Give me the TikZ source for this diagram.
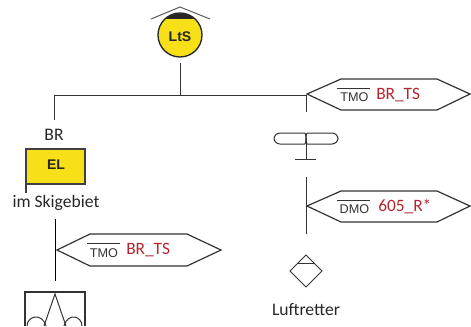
\documentclass[tikz,border=0pt]{standalone}
\usepackage{fontspec}
\setmainfont{Carlito}
\newfontfamily\arialf{Liberation Sans}
\definecolor{signyellow}{HTML}{F7E017}
\definecolor{redtxt}{HTML}{B5252F}
\definecolor{ln}{HTML}{333333}
\tikzset{
  x=0.75pt,y=-0.75pt,
  wire/.style={draw=ln,line width=0.75pt},
  hexa/.style={draw=ln,line width=0.9pt,fill=white},
  lbl/.style={font=\fontsize{13.2}{15}\selectfont,text=black!85,inner sep=0pt},
  redl/.style={font=\fontsize{13}{15}\selectfont,text=redtxt,inner sep=0pt},
  ovl/.style={font=\arialf\fontsize{9.5}{11}\selectfont,text=black!80,inner sep=0pt},
  ovbar/.style={draw=ln,line width=0.6pt},
  sign/.style={font=\arialf\bfseries\fontsize{10.5}{12}\selectfont,text=black!85,inner sep=0pt}
}
\begin{document}
\begin{tikzpicture}
\useasboundingbox (0,0) rectangle (471,326);
\clip (0,0) rectangle (471,326);
% LtS symbol
\node[circle,draw=black!85,line width=1pt,fill=signyellow,minimum size=33pt,inner sep=0pt] (lts) at (180,35) {};
\begin{scope}
\clip (180,35) circle (21.5);
\fill[black!85] (150,10) rectangle (210,18.5);
\end{scope}
\node[sign] (ltst) at (180,37) {LtS};
\draw[wire,draw=black!65] (151,19) -- (180,7) -- (210,19);
% tree
\coordinate (ltsb) at (180,63);
\coordinate (jc) at (180,95);
\coordinate (jl) at (54,95);
\coordinate (jr) at (306,95);
\draw[wire] (ltsb) -- (jc);
\draw[wire] (jl) -- (jr);
\coordinate (jlb) at (54,120);
\draw[wire] (jl) -- (jlb);
\coordinate (jrb) at (306,112);
\draw[wire] (jr) -- (jrb);
% Hex 1
\draw[hexa] (307,94) -- (341,79) -- (437,79) -- (470,94) -- (437,110) -- (341,110) -- cycle;
\node[ovl] (t1) at (354.5,97) {TMO};
\draw[ovbar] (337,88) -- (370,88);
\node[redl,anchor=west] (r1) at (376,95) {BR\_TS};
% propeller
\draw[wire,rounded corners=4.5pt] (305,133) -- (274,133) -- (274,144) -- (305,144);
\draw[wire,rounded corners=4.5pt] (307,133) -- (338,133) -- (338,144) -- (307,144);
\draw[wire] (305,133) .. controls (306.5,136) and (306.5,141) .. (305,144);
\draw[wire] (307,133) .. controls (305.5,136) and (305.5,141) .. (307,144);
\coordinate (pc) at (306,138);
\coordinate (pb) at (306,159);
\draw[wire] (pc) -- (pb);
\draw[wire] (295,159) -- (316,159);
% line 2
\coordinate (l2a) at (306,177);
\coordinate (l2b) at (306,234);
\draw[wire] (l2a) -- (l2b);
% Hex 2
\draw[hexa] (307,206) -- (341,191) -- (437,191) -- (470,206) -- (437,222) -- (341,222) -- cycle;
\node[ovl] (t2) at (354.5,209) {DMO};
\draw[ovbar] (337,200) -- (370,200);
\node[redl,anchor=west] (r2) at (378,207) {605\_R*};
% Diamond
\draw[wire] (306,255) -- (322,271) -- (306,287) -- (290,271) -- cycle;
\draw[wire] (298,263) -- (314,263);
\node[lbl] (luft) at (306,310) {Luftretter};
% Left branch
\node[lbl] (br) at (54,135) {BR};
\draw[wire,draw=black!75,line width=1pt,fill=signyellow] (26,149) rectangle (85,184);
\draw[wire,draw=black!75,line width=1pt] (26,184) -- (26,193);
\node[sign] (el) at (56,165) {EL};
\node[lbl] (ski) at (56,203) {im Skigebiet};
\coordinate (l3a) at (55,219);
\coordinate (l3b) at (55,281);
\draw[wire,draw=black] (l3a) -- (l3b);
% Hex 3
\draw[hexa] (57,250) -- (90,234) -- (187,234) -- (221,250) -- (187,266) -- (90,266) -- cycle;
\node[ovl] (t3) at (104,253) {TMO};
\draw[ovbar] (87,243) -- (120,243);
\node[redl,anchor=west] (r3) at (126,250) {BR\_TS};
% Bottom box
\draw[wire,line width=0.9pt] (25,326) -- (25,292) -- (85,292) -- (85,326);
\draw[wire] (44,326) -- (55,294) -- (66,326);
\draw[wire] (27,326) .. controls (27,316) and (42,312) .. (46,326);
\draw[wire] (64,326) .. controls (68,312) and (82,316) .. (82,326);
\end{tikzpicture}
\end{document}
